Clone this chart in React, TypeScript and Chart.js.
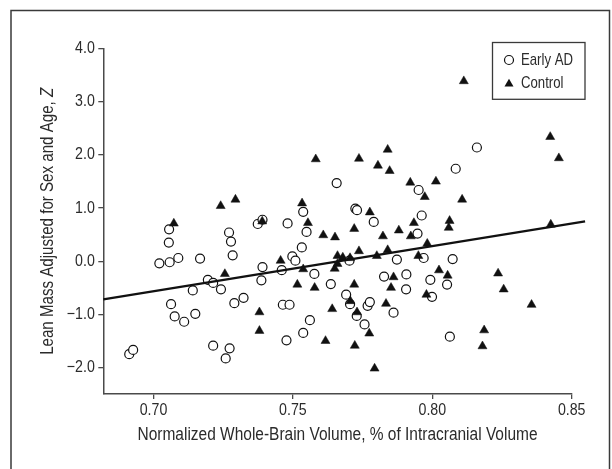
import React, { useEffect, useRef } from "react";
import { Chart, registerables } from "chart.js";

Chart.register(...registerables);

// ---- data ----
const adX = [0.6913, 0.6927, 0.7021, 0.7056, 0.7055, 0.7058, 0.7089, 0.7063, 0.7076, 0.7110,
  0.7141, 0.7150, 0.7167, 0.7195, 0.7214, 0.7242, 0.7214, 0.7271, 0.7278, 0.7284,
  0.7273, 0.7259, 0.7290, 0.7323, 0.7374, 0.7391, 0.7391, 0.7387, 0.7460, 0.7481,
  0.7464, 0.7488, 0.7477, 0.7498, 0.7509, 0.7532, 0.7537, 0.7549, 0.7577, 0.7561,
  0.7537, 0.7636, 0.7657, 0.7691, 0.7703, 0.7705, 0.7724, 0.7730, 0.7729, 0.7757,
  0.7768, 0.7776, 0.7790, 0.7827, 0.7861, 0.7873, 0.7907, 0.7906, 0.7951, 0.7962,
  0.7947, 0.7969, 0.7993, 0.7999, 0.8053, 0.8073, 0.8063, 0.8084, 0.8160];
const adY = [-1.75, -1.67, -0.04, 0.60, 0.35, -0.02, 0.06, -0.81, -1.04, -1.14,
  -0.55, -0.99, 0.05, -0.35, -0.41, -0.53, -1.59, 0.54, 0.37, 0.11,
  -1.64, -1.83, -0.79, -0.69, 0.70, 0.78, -0.11, -0.36, -0.17, 0.71,
  -0.82, -0.82, -1.49, 0.09, 0.01, 0.26, 0.93, 0.55, -0.24, -1.11,
  -1.35, -0.43, 1.47, -0.63, 0.01, -0.81, 0.99, 0.96, -1.03, -1.19,
  -0.84, -0.77, 0.74, -0.29, -0.97, 0.03, -0.25, -0.53, 1.34, 0.86,
  0.52, 0.06, -0.35, -0.67, -0.44, 0.04, -1.42, 1.74, 2.14];

const ctrlX = [0.7073, 0.7241, 0.7294, 0.7256, 0.7380, 0.7380, 0.7390, 0.7456, 0.7533, 0.7537,
  0.7554, 0.7516, 0.7578, 0.7582, 0.7609, 0.7617, 0.7641, 0.7650, 0.7660, 0.7651,
  0.7660, 0.7679, 0.7705, 0.7706, 0.7720, 0.7720, 0.7730, 0.7722, 0.7737, 0.7737,
  0.7776, 0.7774, 0.7801, 0.7793, 0.7805, 0.7823, 0.7840, 0.7840, 0.7847, 0.7834,
  0.7852, 0.7861, 0.7880, 0.7921, 0.7934, 0.7923, 0.7950, 0.7973, 0.7982, 0.7979,
  0.8013, 0.8024, 0.8055, 0.8059, 0.8062, 0.8107, 0.8113, 0.8186, 0.8180, 0.8236,
  0.8256, 0.8356, 0.8423, 0.8454, 0.8425];
const ctrlY = [0.71, 1.04, 1.16, -0.24, -0.96, -1.31, 0.75, 0.01, 1.09, -0.15,
  0.72, -0.44, -0.50, 1.92, 0.49, -1.50, -0.90, -0.14, -0.05, 0.45,
  0.10, 0.07, 0.06, -0.75, 0.61, -0.44, -0.96, -1.59, 1.93, 0.19,
  0.92, -1.36, 0.10, -2.02, 1.80, 0.47, 0.21, 2.10, 1.70, -0.80,
  -0.50, -0.30, 0.58, 1.48, 0.72, 0.47, 0.10, 1.21, 0.33, -0.63,
  1.50, -0.17, -0.27, 0.63, 0.76, 1.16, 3.39, -1.30, -1.60, -0.23,
  -0.53, -0.82, 2.34, 1.94, 0.69];

const fitX = [0.682, 0.8548];
const fitY = [-0.72, 0.75];

const xTicks = [0.70, 0.75, 0.80, 0.85];
const yTicks = [4, 3, 2, 1, 0, -1, -2];
const X_MIN = 0.682;
const X_MAX = 0.85;
const Y_MIN = -2.5;
const Y_MAX = 4.0;

const seriesNames = ["Early AD", "Control"];
const xTitle = "Normalized Whole-Brain Volume, % of Intracranial Volume";
const yTitleMain = "Lean Mass Adjusted for Sex and Age, ";
const yTitleItalic = "Z";

const FONT = "'Liberation Sans', Arial, sans-serif";
const TEXT = "#2b2b2b";
const AXIS = "#4a4a4a";
const INK = "#111111";

const fmtX = (v: number) => v.toFixed(2);
const fmtY = (v: number) => (v < 0 ? "\u2212" : "") + Math.abs(v).toFixed(1);

function scaledText(ctx: CanvasRenderingContext2D, text: string, x: number, y: number, align: CanvasTextAlign, sx: number) {
  ctx.save();
  ctx.translate(x, y);
  ctx.scale(sx, 1);
  ctx.textAlign = align;
  ctx.fillText(text, 0, 0);
  ctx.restore();
}

export default function App() {
  const ref = useRef<HTMLCanvasElement>(null);

  useEffect(() => {
    document.body.style.margin = "0";
    const canvas = ref.current;
    if (!canvas) return;

    const decor = {
      id: "decor",
      beforeDraw(chart: any) {
        const ctx = chart.ctx;
        ctx.save();
        ctx.fillStyle = "#ffffff";
        ctx.fillRect(0, 0, chart.width, chart.height);
        ctx.strokeStyle = "#3a3a3a";
        ctx.lineWidth = 1.5;
        ctx.strokeRect(11, 10.5, 598.5, 600);
        ctx.restore();
      },
      afterDraw(chart: any) {
        const ctx: CanvasRenderingContext2D = chart.ctx;
        const xs = chart.scales.x;
        const ys = chart.scales.y;
        const area = chart.chartArea;

        ctx.save();
        ctx.fillStyle = TEXT;
        ctx.textBaseline = "middle";

        // tick labels
        ctx.font = `16.5px ${FONT}`;
        xTicks.forEach((v) => scaledText(ctx, fmtX(v), xs.getPixelForValue(v), 410.5, "center", 0.86));
        yTicks.forEach((v) => scaledText(ctx, fmtY(v), area.left - 8.5, ys.getPixelForValue(v), "right", 0.86));

        // x title, fitted to the reference width
        ctx.font = `17.5px ${FONT}`;
        const wx = ctx.measureText(xTitle).width;
        const sxX = 400 / wx;
        scaledText(ctx, xTitle, (area.left + area.right) / 2, 435, "center", sxX);

        // y title with italic Z
        const regFont = `17.5px ${FONT}`;
        const itFont = `italic 17.5px ${FONT}`;
        ctx.font = regFont;
        const w1 = ctx.measureText(yTitleMain).width;
        ctx.font = itFont;
        const w2 = ctx.measureText(yTitleItalic).width;
        const sxY = 267 / (w1 + w2);
        const cy = (area.top + area.bottom) / 2;
        ctx.save();
        ctx.translate(48.5, cy);
        ctx.rotate(-Math.PI / 2);
        ctx.scale(sxY, 1);
        ctx.textAlign = "left";
        const start = -(w1 + w2) / 2;
        ctx.font = regFont;
        ctx.fillText(yTitleMain, start, 0);
        ctx.font = itFont;
        ctx.fillText(yTitleItalic, start + w1, 0);
        ctx.restore();
        ctx.restore();

        // legend
        ctx.save();
        ctx.strokeStyle = "#3a3a3a";
        ctx.lineWidth = 1.3;
        ctx.strokeRect(492.5, 42.5, 92.5, 56.8);
        ctx.beginPath();
        ctx.arc(509, 60, 4.5, 0, Math.PI * 2);
        ctx.fillStyle = "#fff";
        ctx.fill();
        ctx.strokeStyle = INK;
        ctx.lineWidth = 1.2;
        ctx.stroke();
        const r = 5.2;
        const tx = 509, ty = 84;
        ctx.beginPath();
        ctx.moveTo(tx, ty - r);
        ctx.lineTo(tx + r * Math.sin(Math.PI / 3), ty + r * 0.5);
        ctx.lineTo(tx - r * Math.sin(Math.PI / 3), ty + r * 0.5);
        ctx.closePath();
        ctx.fillStyle = INK;
        ctx.fill();
        ctx.fillStyle = TEXT;
        ctx.font = `17px ${FONT}`;
        ctx.textBaseline = "middle";
        const we = ctx.measureText(seriesNames[0]).width;
        const sxL = 52 / we;
        scaledText(ctx, seriesNames[0], 521, 60, "left", sxL);
        scaledText(ctx, seriesNames[1], 521, 83.5, "left", sxL);
        ctx.restore();
      },
    };

    const chart = new Chart(canvas, {
      type: "scatter",
      data: {
        datasets: [
          {
            type: "line",
            label: "fit",
            data: fitX.map((x, i) => ({ x, y: fitY[i] })),
            borderColor: INK,
            borderWidth: 2.3,
            pointRadius: 0,
            showLine: true,
            fill: false,
            clip: false,
            order: 0,
          } as any,
          {
            label: seriesNames[1],
            data: ctrlX.map((x, i) => ({ x, y: ctrlY[i] })),
            pointStyle: "triangle",
            pointRadius: 5.2,
            pointBackgroundColor: INK,
            pointBorderColor: INK,
            pointBorderWidth: 0.5,
            clip: false,
            order: 1,
          },
          {
            label: seriesNames[0],
            data: adX.map((x, i) => ({ x, y: adY[i] })),
            pointStyle: "circle",
            pointRadius: 4.5,
            pointBackgroundColor: "#ffffff",
            pointBorderColor: INK,
            pointBorderWidth: 1.2,
            clip: false,
            order: 2,
          },
        ],
      },
      options: {
        responsive: true,
        maintainAspectRatio: false,
        animation: false,
        events: [],
        layout: { padding: { left: 0, top: 48.7, right: 40.3, bottom: 0 } },
        plugins: {
          legend: { display: false },
          tooltip: { enabled: false },
        },
        scales: {
          x: {
            type: "linear",
            min: X_MIN,
            max: X_MAX,
            afterFit: (s: any) => { s.height = 75; },
            afterBuildTicks: (s: any) => { s.ticks = xTicks.map((v) => ({ value: v })); },
            grid: { display: true, drawOnChartArea: false, drawTicks: true, tickLength: 5, color: AXIS, lineWidth: 1.3 },
            border: { display: true, color: AXIS, width: 1.5 },
            ticks: { display: false },
            title: { display: false },
          },
          y: {
            type: "linear",
            min: Y_MIN,
            max: Y_MAX,
            afterFit: (s: any) => { s.width = 103.3; },
            afterBuildTicks: (s: any) => { s.ticks = yTicks.map((v) => ({ value: v })); },
            grid: { display: true, drawOnChartArea: false, drawTicks: true, tickLength: 5, color: AXIS, lineWidth: 1.3 },
            border: { display: true, color: AXIS, width: 1.5 },
            ticks: { display: false },
            title: { display: false },
          },
        },
      },
      plugins: [decor],
    });

    return () => chart.destroy();
  }, []);

  return (
    <div style={{ position: "absolute", left: 0, top: 0, width: 612, height: 469 }}>
      <canvas ref={ref} />
    </div>
  );
}
